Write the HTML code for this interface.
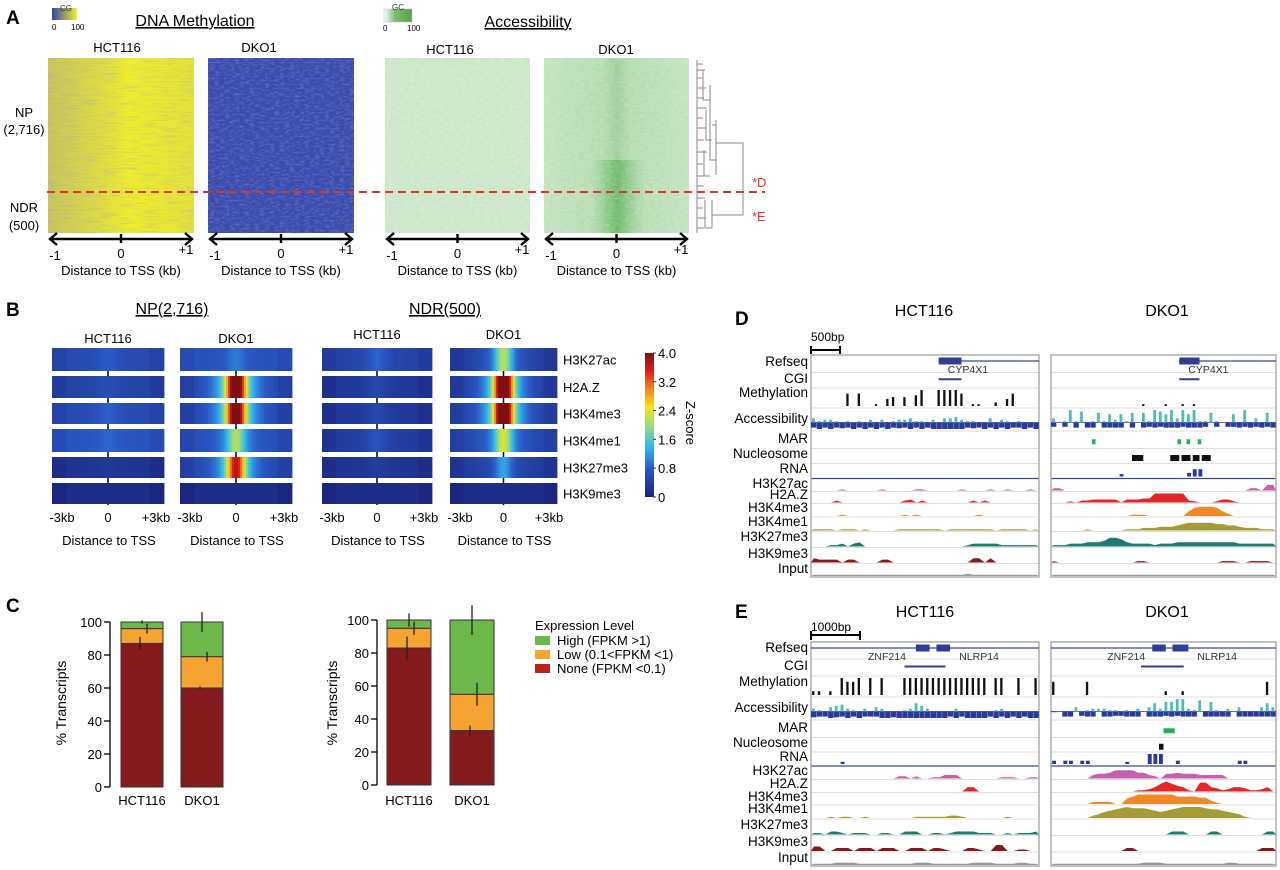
<!DOCTYPE html>
<html><head><meta charset="utf-8"><style>
html,body{margin:0;padding:0;background:#fff}
svg{display:block;font-family:"Liberation Sans",Arial,sans-serif}
</style></head><body>
<svg id="fig" width="1280" height="870" viewBox="0 0 1280 870" xmlns="http://www.w3.org/2000/svg">
<defs>
<linearGradient id="cgGrad" x1="0" x2="1"><stop offset="0" stop-color="#3344aa"/><stop offset="1" stop-color="#f2f230"/></linearGradient>
<linearGradient id="gcGrad" x1="0" x2="1"><stop offset="0" stop-color="#ffffff"/><stop offset="0.4" stop-color="#7bbd6e"/><stop offset="1" stop-color="#5a9e50"/></linearGradient>
<linearGradient id="methH" x1="0" x2="1"><stop offset="0" stop-color="#c9c65c"/><stop offset="0.35" stop-color="#dcdb42"/><stop offset="0.55" stop-color="#efee2c"/><stop offset="1" stop-color="#e4e23a"/></linearGradient>
<linearGradient id="accD" x1="0" x2="1"><stop offset="0" stop-color="#c4e3c2"/><stop offset="0.4" stop-color="#b6dcb3"/><stop offset="0.5" stop-color="#9fd19b"/><stop offset="0.6" stop-color="#b6dcb3"/><stop offset="1" stop-color="#c4e3c2"/></linearGradient>
<linearGradient id="accDlow" x1="0" x2="1"><stop offset="0" stop-color="#8ecb8b" stop-opacity="0"/><stop offset="0.5" stop-color="#6fbc6c"/><stop offset="1" stop-color="#8ecb8b" stop-opacity="0"/></linearGradient>
<linearGradient id="zGrad" x1="0" y1="1" x2="0" y2="0">
<stop offset="0" stop-color="#1a237a"/><stop offset="0.2" stop-color="#2b5bc8"/><stop offset="0.35" stop-color="#33b8ee"/><stop offset="0.5" stop-color="#9edd7a"/><stop offset="0.62" stop-color="#f4e41c"/><stop offset="0.75" stop-color="#f3861e"/><stop offset="0.87" stop-color="#e0201c"/><stop offset="1" stop-color="#7e1012"/></linearGradient>
<filter id="grain" x="0" y="0" width="1" height="1"><feTurbulence type="fractalNoise" baseFrequency="0.05 0.6" numOctaves="2" seed="3"/><feColorMatrix type="matrix" values="0 0 0 0 0.3  0 0 0 0 0.35  0 0 0 0 0.6  0 0 0 1.6 -0.75"/></filter>
<filter id="grainG" x="0" y="0" width="1" height="1"><feTurbulence type="fractalNoise" baseFrequency="0.2 0.5" numOctaves="2" seed="7"/><feColorMatrix type="matrix" values="0 0 0 0 1  0 0 0 0 1  0 0 0 0 1  0 0 0 1.2 -0.5"/></filter>
</defs>

<!-- PANEL A -->
<g>
<text x="6" y="24" font-size="19" font-weight="bold">A</text>
<rect x="52" y="8" width="25" height="12" fill="url(#cgGrad)"/>
<text x="60" y="11" font-size="8" fill="#333">CG</text>
<text x="52" y="30" font-size="8">0</text>
<text x="71" y="30" font-size="8">100</text>
<text x="195" y="26" font-size="16" text-anchor="middle" text-decoration="underline">DNA Methylation</text>
<rect x="384" y="9" width="28" height="13" fill="url(#gcGrad)" stroke="#bbb" stroke-width="0.5"/>
<text x="392" y="10" font-size="8" fill="#333">GC</text>
<text x="383" y="31" font-size="8">0</text>
<text x="407" y="31" font-size="8">100</text>
<text x="528" y="27" font-size="16" text-anchor="middle" text-decoration="underline">Accessibility</text>
<text x="117" y="52" font-size="13" text-anchor="middle">HCT116</text>
<text x="259" y="52" font-size="13" text-anchor="middle">DKO1</text>
<text x="450" y="54" font-size="13" text-anchor="middle">HCT116</text>
<text x="616" y="54" font-size="13" text-anchor="middle">DKO1</text>
<text x="24" y="117" font-size="13" text-anchor="middle">NP</text>
<text x="24" y="134" font-size="13" text-anchor="middle">(2,716)</text>
<text x="24" y="212" font-size="13" text-anchor="middle">NDR</text>
<text x="24" y="230" font-size="13" text-anchor="middle">(500)</text>

<rect x="48" y="58" width="146" height="175" fill="url(#methH)"/>
<rect x="48" y="58" width="146" height="175" filter="url(#grain)" opacity="0.55"/>
<rect x="208" y="58" width="146" height="175" fill="#3a4cae"/>
<rect x="208" y="58" width="146" height="175" filter="url(#grainG)" opacity="0.35"/>
<rect x="385" y="58" width="145" height="175" fill="#cde7cb"/>
<rect x="385" y="58" width="145" height="175" filter="url(#grainG)" opacity="0.4"/>
<rect x="544" y="58" width="145" height="175" fill="url(#accD)"/>
<rect x="590" y="160" width="55" height="73" fill="url(#accDlow)"/>
<rect x="544" y="58" width="145" height="175" filter="url(#grainG)" opacity="0.35"/>

<g id="axesA" stroke="#000" fill="none"></g>

<g stroke="#888" stroke-width="1" fill="none">
<line x1="697" y1="60" x2="697" y2="233"/>
<path d="M697 64 H703 M697 70 H705 M697 78 H702 M697 88 H706 M697 98 H704 M697 108 H707 M697 118 H703 M697 128 H706 M697 140 H704 M697 152 H707 M697 164 H703 M697 176 H706 M697 186 H704 M697 198 H705 M697 208 H703 M697 218 H706 M697 228 H704"/>
<path d="M703 70 V100 H710 M706 110 V140 H712 M704 150 V176 H710 M710 85 V160 H716 M716 120 V175 M712 125 H716"/>
<path d="M716 143 H743 V215 H712 M705 200 V228 H712 V200"/>
</g>
<line x1="47" y1="192" x2="765" y2="192" stroke="#e3342a" stroke-width="2" stroke-dasharray="8,5"/>
<text x="752" y="187" font-size="13" fill="#e3342a">*D</text>
<text x="752" y="221" font-size="13" fill="#e3342a">*E</text>
</g>

<!-- PANEL B -->
<g>
<text x="6" y="316" font-size="19" font-weight="bold">B</text>
<text x="172" y="314" font-size="16" text-anchor="middle" text-decoration="underline">NP(2,716)</text>
<text x="445" y="314" font-size="16" text-anchor="middle" text-decoration="underline">NDR(500)</text>
<g id="heatB"></g>
<rect x="645" y="353" width="9" height="144" fill="url(#zGrad)"/>
<g id="cbTicks"></g>
<text x="0" y="0" font-size="13" transform="translate(686,423) rotate(90)" text-anchor="middle">Z-score</text>
</g>

<!-- PANEL C -->
<g>
<text x="6" y="612" font-size="19" font-weight="bold">C</text>
<g id="barsC"></g>
<text x="535" y="630" font-size="13">Expression Level</text>
<rect x="535" y="636" width="15" height="9" fill="#6cb84a"/>
<text x="557" y="645" font-size="13">High (FPKM &gt;1)</text>
<rect x="535" y="650" width="15" height="9" fill="#f5a431"/>
<text x="557" y="659" font-size="13">Low (0.1&lt;FPKM &lt;1)</text>
<rect x="535" y="664" width="15" height="9" fill="#c0201f"/>
<text x="557" y="673" font-size="13">None (FPKM &lt;0.1)</text>
</g>

<!-- PANELS D/E -->
<g>
<text x="735" y="325" font-size="19" font-weight="bold">D</text>
<text x="924" y="316" font-size="16" text-anchor="middle">HCT116</text>
<text x="1167" y="316" font-size="16" text-anchor="middle">DKO1</text>
<text x="811" y="341" font-size="12">500bp</text>
<path d="M811 346 V354 M811 350 H840 M840 346 V354" stroke="#000" stroke-width="2"/>
</g>
<g>
<text x="735" y="618" font-size="19" font-weight="bold">E</text>
<text x="925" y="617" font-size="16" text-anchor="middle">HCT116</text>
<text x="1167" y="617" font-size="16" text-anchor="middle">DKO1</text>
<text x="811" y="631" font-size="12">1000bp</text>
<path d="M811 631 V640 M811 635 H860 M860 631 V640" stroke="#000" stroke-width="2"/>
</g>
<g id="tracks"></g>
</svg>

<script>
const NS = "http://www.w3.org/2000/svg";
function mk(parent, tag, attrs, text) {
  const e = document.createElementNS(NS, tag);
  for (const k in attrs) e.setAttribute(k, attrs[k]);
  if (text !== undefined) e.textContent = text;
  parent.appendChild(e);
  return e;
}

/* ---------- Panel A axes ---------- */
const aTickLabels = ["-1", "0", "+1"];
const aPanelsX = [[48,194],[208,354],[385,530],[544,689]];
(function(){
  const g = document.getElementById('axesA');
  aPanelsX.forEach(([x0,x1], i) => {
    const y = 239;
    const ax = mk(g, 'path', {d:`M${x0+3} ${y} H${x1-3} M${x0+9} ${y-6} L${x0+2} ${y} L${x0+9} ${y+6} M${x1-9} ${y-6} L${x1-2} ${y} L${x1-9} ${y+6} M${(x0+x1)/2} ${y-5} V${y+4}`, 'stroke-width':2.4});
    
    
    const pos = [x0+7, (x0+x1)/2, x1-8];
    aTickLabels.forEach((t, j) => {
      const tx = mk(document.getElementById('fig'), 'text', {x:pos[j], y: j===2?254:(j===1?258:260), 'font-size':13, 'text-anchor':'middle'}, t);
      
      
    });
    const tt = mk(document.getElementById('fig'), 'text', {x:(x0+x1)/2, y:275, 'font-size':13, 'text-anchor':'middle'}, 'Distance to TSS (kb)');
    
    
  });
})();

/* ---------- Panel B heatmaps ---------- */
const bMarks = ["H3K27ac","H2A.Z","H3K4me3","H3K4me1","H3K27me3","H3K9me3"];
const bPanelNames = ["HCT116","DKO1","HCT116","DKO1"];
const bBaseNP_H = [0.55,0.45,0.55,0.7,0.25,0.15];
const bPeakNP_H = [0.2,0.15,0.25,0.15,0.05,0];
const bBaseNP_D = [0.65,0.5,0.5,0.6,0.5,0.15];
const bPeakNP_D = [0.3,3.7,3.5,1.3,2.8,0];
const bBaseNDR_H = [0.45,0.3,0.3,0.35,0.25,0.15];
const bPeakNDR_H = [0.35,0.2,0.2,0.3,0.1,0];
const bBaseNDR_D = [0.4,0.4,0.45,0.5,0.35,0.15];
const bPeakNDR_D = [1.5,4.0,4.0,1.6,0.8,0];
const zTicks = ["0","0.8","1.6","2.4","3.2","4.0"];
const zMax = 4.0;

const jet = [[0,[26,35,122]],[0.2,[43,91,200]],[0.35,[51,184,238]],[0.5,[158,221,122]],[0.62,[244,228,28]],[0.75,[243,134,30]],[0.87,[224,32,28]],[1,[126,16,18]]];
function zColor(v){
  let t = Math.max(0, Math.min(1, v/zMax));
  for (let i=1;i<jet.length;i++){
    if (t<=jet[i][0]){
      const a=jet[i-1], b=jet[i], f=(t-a[0])/(b[0]-a[0]);
      const c=a[1].map((x,k)=>Math.round(x+(b[1][k]-x)*f));
      return `rgb(${c[0]},${c[1]},${c[2]})`;
    }
  }
  return 'rgb(126,16,18)';
}
(function(){
  const g = document.getElementById('heatB');
  const fig = document.getElementById('fig');
  const panels = [
    {x0:52,x1:164,base:bBaseNP_H,peak:bPeakNP_H,hy:343},
    {x0:180,x1:292,base:bBaseNP_D,peak:bPeakNP_D,hy:343},
    {x0:322,x1:432,base:bBaseNDR_H,peak:bPeakNDR_H,hy:339},
    {x0:450,x1:557,base:bBaseNDR_D,peak:bPeakNDR_D,hy:339}];
  const rowsY = [[348,371],[376,398],[403,424],[429,452],[457,478],[483,504]];
  panels.forEach((p, pi) => {
    const hd = mk(fig,'text',{x:(p.x0+p.x1)/2,y:p.hy,'font-size':13,'text-anchor':'middle'},bPanelNames[pi]);
    
    
    const N = 56, w = (p.x1-p.x0)/N, cx = (p.x0+p.x1)/2;
    rowsY.forEach(([y0,y1], ri) => {
      const rg = mk(g,'g',{});
      
      
      for (let k=0;k<N;k++){
        const d = (k+0.5-N/2)/N*6;
        const prof = Math.exp(-(d*d)/(2*0.35*0.35));
        const shoulder = Math.exp(-(d*d)/(2*0.9*0.9))*0.35;
        const edge = (Math.abs(d)>2.2)? -0.1:0;
        const v = p.base[ri]+edge + p.peak[ri]*(prof*0.8+shoulder);
        mk(rg,'rect',{x:(p.x0+k*w).toFixed(2),y:y0,width:(w+0.4).toFixed(2),height:y1-y0,fill:zColor(v)});
      }
      mk(rg,'line',{x1:cx,y1:y1,x2:cx,y2:Math.min(y1+5,505),stroke:'#000','stroke-width':1.5});
    });
    const ticks = ["-3kb","0","+3kb"], tx=[p.x0+10, cx, p.x1-8];
    ticks.forEach((t,j)=>{
      const e = mk(fig,'text',{x:tx[j],y:522,'font-size':13,'text-anchor':'middle'},t);
      
      
    });
    const tt = mk(fig,'text',{x:cx+1,y:545,'font-size':13,'text-anchor':'middle'},'Distance to TSS');
    
    
  });
  rowsY.forEach(([y0,y1],ri)=>{
    const e = mk(fig,'text',{x:563,y:(y0+y1)/2+5,'font-size':13},bMarks[ri]);
    
    
  });
  const cb = document.getElementById('cbTicks');
  zTicks.forEach(t=>{
    const y = 497 - parseFloat(t)/zMax*144;
    mk(cb,'line',{x1:653,x2:656,y1:y,y2:y,stroke:'#333'});
    const e = mk(cb,'text',{x:658,y:y+5,'font-size':13},t);
    
    
  });
})();

/* ---------- Panel C bar charts ---------- */
const cCategories = ["HCT116","DKO1"];
const cYTicks = [0,20,40,60,80,100];
const npNone = [87, 60];
const npLow = [9, 19];
const npHigh = [4, 21];
const npErrNone = [4, 1];
const npErrLow = [3, 3];
const npErrHigh = [1, 6];
const ndrNone = [83, 33];
const ndrLow = [12, 22];
const ndrHigh = [5, 45];
const ndrErrNone = [7, 3];
const ndrErrLow = [4, 7];
const ndrErrHigh = [4, 9];
(function(){
  const g = document.getElementById('barsC');
  const charts = [
    {ax:110, y0:787, y100:622, bars:[[121,163],[181,223]], none:npNone, low:npLow, high:npHigh, en:npErrNone, el:npErrLow, eh:npErrHigh, title:61},
    {ax:377, y0:785, y100:620, bars:[[387,431],[450,494]], none:ndrNone, low:ndrLow, high:ndrHigh, en:ndrErrNone, el:ndrErrLow, eh:ndrErrHigh, title:332}];
  charts.forEach((c, ci) => {
    const ys = v => c.y0 - (c.y0-c.y100)*v/100;
    const cg = mk(g,'g',{});
    
    
    const axis = mk(cg,'path',{d:`M${c.ax} ${ys(0)} V${ys(100)}`,stroke:'#000','stroke-width':1.3,fill:'none'});
    
    
    cYTicks.forEach(t=>{
      mk(cg,'line',{x1:c.ax-6,x2:c.ax,y1:ys(t),y2:ys(t),stroke:'#000','stroke-width':1.3});
      const e = mk(cg,'text',{x:c.ax-8,y:ys(t)+5,'font-size':13,'text-anchor':'end'},String(t));
      
      
    });
    const yt = mk(cg,'text',{x:0,y:0,'font-size':14,'text-anchor':'middle',transform:`translate(${c.title+5},703) rotate(-90)`},'% Transcripts');
    
    
    c.bars.forEach(([x0,x1], bi) => {
      const n=c.none[bi], l=c.low[bi], h=c.high[bi];
      const segs = [[0,n,'#861b1d','none'],[n,n+l,'#f5a431','low'],[n+l,n+l+h,'#6cb84a','high']];
      segs.forEach(([a,b,col,nm])=>{
        const r = mk(cg,'rect',{x:x0,y:ys(b),width:x1-x0,height:ys(a)-ys(b),fill:col,stroke:'#333','stroke-width':1});
        
        
      });
      const xm = (x0+x1)/2;
      const errs = [[n,c.en[bi],xm-2],[n+l,c.el[bi],xm+5],[n+l+h,c.eh[bi],xm]];
      errs.forEach(([v,e,x])=>{
        const el = mk(cg,'line',{x1:x,x2:x,y1:ys(v-e),y2:ys(v+e),stroke:'#222','stroke-width':1.3});
        
        
      });
      const lb = mk(cg,'text',{x:xm,y:805,'font-size':13,'text-anchor':'middle'},cCategories[bi]);
      
      
    });
  });
})();

/* ---------- Panels D/E genome tracks ---------- */
const trackNames = ["Refseq","CGI","Methylation","Accessibility","MAR","Nucleosome","RNA","H3K27ac","H2A.Z","H3K4me3","H3K4me1","H3K27me3","H3K9me3","Input"];
const trackColors = {Methylation:"#111",RNA:"#2b3a9a",H3K27ac:"#c65fae","H2A.Z":"#e2262a",H3K4me3:"#f08a28",H3K4me1:"#a39c38",H3K27me3:"#1f7a6e",H3K9me3:"#861a1a",Input:"#9a9a9a"};
const dLabelY = [361,378,392,418,438,453,468,483,494,507,521,536,553,568];
const eLabelY = [647,665,681,707,727,742,756,770,783,796,808,824,841,857];
// D HCT116
const dH_meth   = "0000007070010450506900999970110020470000";
const dH_accUp  = "3122101010202012231102033421100302101000";
const dH_accDn  = "7979787979797978797979999997879797977979";
const dH_rna    = "0000000000000000000000000000000000000000";
const dH_k27ac  = "0000010000001000001100000010000100100010";
const dH_h2az   = "0000200000000000230200000000202000000000";
const dH_k4me3  = "0000010000000000101000000000010000000000";
const dH_k4me1  = "1111011101000001111111101111111101111101";
const dH_k27me3 = "0001120230000000000000000001222221111111";
const dH_k9me3  = "3222202200002200000000000000330300000000";
const dH_input  = "1111111111111111111111111112111111111111";
// D DKO1
const dD_meth   = "0000000000000000100010010100000000000000";
const dD_accUp  = "3019180171626170719869396911710060903070";
const dD_accDn  = "6060707707777070767677767776060667676767";
const dD_rna    = "0000000000002000000000003660000000000000";
const dD_k27ac  = "2200000000000000000000000000000000022055";
const dD_h2az   = "0001022333330333449999992100013310000000";
const dD_k4me3  = "0000000000000011100000004788874200000000";
const dD_k4me1  = "0000001000000111222333456666655443222111";
const dD_k27me3 = "1112223334665322221222333333333332222222";
const dD_k9me3  = "1000000000000001100000000000001110011110";
const dD_input  = "1111111111111111111111111111111111111111";
const dD_mar = [19, 57, 61, 66];
const dD_nuc = [[36,41],[53,57],[58,62],[63,66],[67,71]];
// E HCT116
const eH_meth   = "2202097790909000999999999999999099009009";
const eH_accUp  = "2103452102032000126420000200000012000000";
const eH_accDn  = "8779879797779989999999997979999797979799";
const eH_rna    = "0000020000000000000000000000000000000000";
const eH_k27ac  = "0000000000000002202001133300000001110011";
const eH_h2az   = "0000000000000000000000000004400000000000";
const eH_k4me3  = "0000000000000000000000000000000000000000";
const eH_k4me1  = "0001011001000000001111112210000000100000";
const eH_k27me3 = "1102210111001100222001101222211100101112";
const eH_k9me3  = "3300222022202220022202210002210044001100";
const eH_input  = "1111222211111111112221111111222211112211";
// E DKO1
const eD_meth   = "7000007000000000000020020000000000000070";
const eD_accUp  = "0000301222110102036277992180710203000363";
const eD_accDn  = "1077067707766777077767677707777707777777";
const eD_rna    = "3033033000000200099900300000000003300000";
const eD_k27ac  = "0000000344577775532044544433333000000000";
const eD_h2az   = "0000000000000001124797541088431244311240";
const eD_k4me3  = "0000000222200579999999777766310000000000";
const eD_k4me1  = "0000000235678988876567899998776543100000";
const eD_k27me3 = "0000000000000000000002220000220000000022";
const eD_k9me3  = "0000000000000220000000000000000000000222";
const eD_input  = "1111111111111111222211111111111221111111";
const eD_mar = [[50,55]];
const eD_nuc = [[48,50]];

(function(){
  const root = document.getElementById('tracks');
  const fig = document.getElementById('fig');
  const panels = [
    {x0:811,x1:1039,y0:355,y1:577,ly:dLabelY,labels:true,genes:[[56,66]],geneLabels:[[60,'CYP4X1']],cgi:[56,66],meth:dH_meth,up:dH_accUp,dn:dH_accDn,rna:dH_rna,sig:[dH_k27ac,dH_h2az,dH_k4me3,dH_k4me1,dH_k27me3,dH_k9me3,dH_input],mar:[],nuc:[],name:'d-hct116'},
    {x0:1051,x1:1276,y0:355,y1:577,ly:dLabelY,labels:false,genes:[[57,66]],geneLabels:[[61,'CYP4X1']],cgi:[57,66],meth:dD_meth,up:dD_accUp,dn:dD_accDn,rna:dD_rna,sig:[dD_k27ac,dD_h2az,dD_k4me3,dD_k4me1,dD_k27me3,dD_k9me3,dD_input],mar:dD_mar.map(p=>[p-0.8,p+0.8]),nuc:dD_nuc,name:'d-dko1'},
    {x0:811,x1:1039,y0:642,y1:866,ly:eLabelY,labels:true,genes:[[46,52],[55,61]],geneLabels:[[25,'ZNF214'],[65,'NLRP14']],cgi:[41,59],full:true,meth:eH_meth,up:eH_accUp,dn:eH_accDn,rna:eH_rna,sig:[eH_k27ac,eH_h2az,eH_k4me3,eH_k4me1,eH_k27me3,eH_k9me3,eH_input],mar:[],nuc:[],name:'e-hct116'},
    {x0:1051,x1:1276,y0:642,y1:866,ly:eLabelY,labels:false,genes:[[45,51],[54,61]],geneLabels:[[25,'ZNF214'],[65,'NLRP14']],cgi:[40,59],full:true,meth:eD_meth,up:eD_accUp,dn:eD_accDn,rna:eD_rna,sig:[eD_k27ac,eD_h2az,eD_k4me3,eD_k4me1,eD_k27me3,eD_k9me3,eD_input],mar:eD_mar,nuc:eD_nuc,name:'e-dko1'}];
  panels.forEach(p=>{
    const g = mk(root,'g',{});
    
    
    const W = p.x1-p.x0, X = f => p.x0 + W*f/100;
    const seps=[p.y0];
    for(let i=0;i<p.ly.length-1;i++) seps.push((p.ly[i]+p.ly[i+1])/2 + 3);
    seps.push(p.y1);
    for(let i=1;i<seps.length-1;i++){
      mk(g,'line',{x1:p.x0,x2:p.x1,y1:seps[i],y2:seps[i],stroke:i===7?'#3a4796':'#d4d4d4','stroke-width':i===7?1.2:0.8});
    }
    mk(g,'rect',{x:p.x0,y:p.y0,width:W,height:p.y1-p.y0,fill:'none',stroke:'#999','stroke-width':1.2});
    if(p.labels){
      trackNames.forEach((t,i)=>{
        const e = mk(fig,'text',{x:808,y:p.ly[i]+5,'font-size':13.5,'text-anchor':'end'},t);
        
        
      });
    }
    const ry = seps[0]+6;
    const gx0 = p.full?0:p.genes[0][0];
    mk(g,'line',{x1:X(gx0),x2:X(100),y1:ry,y2:ry,stroke:'#3a4796','stroke-width':1.2});
    p.genes.forEach(([a,b])=>mk(g,'rect',{x:X(a),y:ry-3.5,width:X(b)-X(a),height:7,fill:'#2f3d94'}));
    p.geneLabels.forEach(([a,t])=>mk(g,'text',{x:X(a),y:ry+12,'font-size':10.5,fill:'#333'},t));
    const cy = (seps[1]+seps[2])/2-1;
    mk(g,'line',{x1:X(p.cgi[0]),x2:X(p.cgi[1]),y1:cy,y2:cy,stroke:'#2f3d94','stroke-width':2});
    const bins = s => s.split('').map(Number);
    function bars(str, ri, col, wf){
      const v = bins(str), n=v.length, bw=W/n, base=seps[ri+1]-2, H=(seps[ri+1]-seps[ri]-4);
      v.forEach((h,k)=>{ if(h>0){
        const hh=H*h/9;
        mk(g,'rect',{x:(p.x0+k*bw+bw*0.2).toFixed(1),y:(base-hh).toFixed(1),width:(bw*(wf||0.45)).toFixed(1),height:hh.toFixed(1),fill:col});
      }});
    }
    function area(str, ri, col){
      const v = bins(str), n=v.length, bw=W/n, base=seps[ri+1]-1, H=(seps[ri+1]-seps[ri]-3);
      let d=`M${p.x0} ${base}`;
      v.forEach((h,k)=>{ const hh = h>0? Math.max(1.2,H*h/9):0; d+=` L${(p.x0+k*bw+bw/2).toFixed(1)} ${(base-hh).toFixed(1)}`; });
      d+=` L${p.x1} ${base} Z`;
      mk(g,'path',{d:d,fill:col});
    }
    bars(p.meth, 2, '#111', 0.4);
    const v1=bins(p.up), v2=bins(p.dn), n=v1.length, bw=W/n;
    const mid = (seps[3]+seps[4])/2+3, Hu=(mid-seps[3]-2), Hd=(seps[4]-mid-2);
    mk(g,'line',{x1:p.x0,x2:p.x1,y1:mid,y2:mid,stroke:'#2f3d94','stroke-width':0.8});
    v1.forEach((h,k)=>{ if(h>0){ const hh=Hu*h/9; mk(g,'rect',{x:(p.x0+k*bw+1).toFixed(1),y:(mid-hh).toFixed(1),width:(bw*0.5).toFixed(1),height:hh.toFixed(1),fill:'#4fbcbc'});}});
    v2.forEach((h,k)=>{ if(h>0){ const hh=Hd*h/9; mk(g,'rect',{x:(p.x0+k*bw).toFixed(1),y:mid,width:(bw*0.95).toFixed(1),height:hh.toFixed(1),fill:'#2b3a9a'});}});
    const my=(seps[4]+seps[5])/2+2;
    p.mar.forEach(([a,b])=>mk(g,'rect',{x:X(a),y:my-2.5,width:X(b)-X(a),height:5,fill:'#22b356'}));
    const ny=(seps[5]+seps[6])/2+2;
    p.nuc.forEach(([a,b])=>mk(g,'rect',{x:X(a),y:ny-3,width:X(b)-X(a),height:6,fill:'#111'}));
    bars(p.rna, 6, '#2b3a9a', 0.7);
    const sigNames=["H3K27ac","H2A.Z","H3K4me3","H3K4me1","H3K27me3","H3K9me3","Input"];
    p.sig.forEach((s,i)=>area(s, 7+i, trackColors[sigNames[i]]));
  });
})();
</script>
</body></html>
